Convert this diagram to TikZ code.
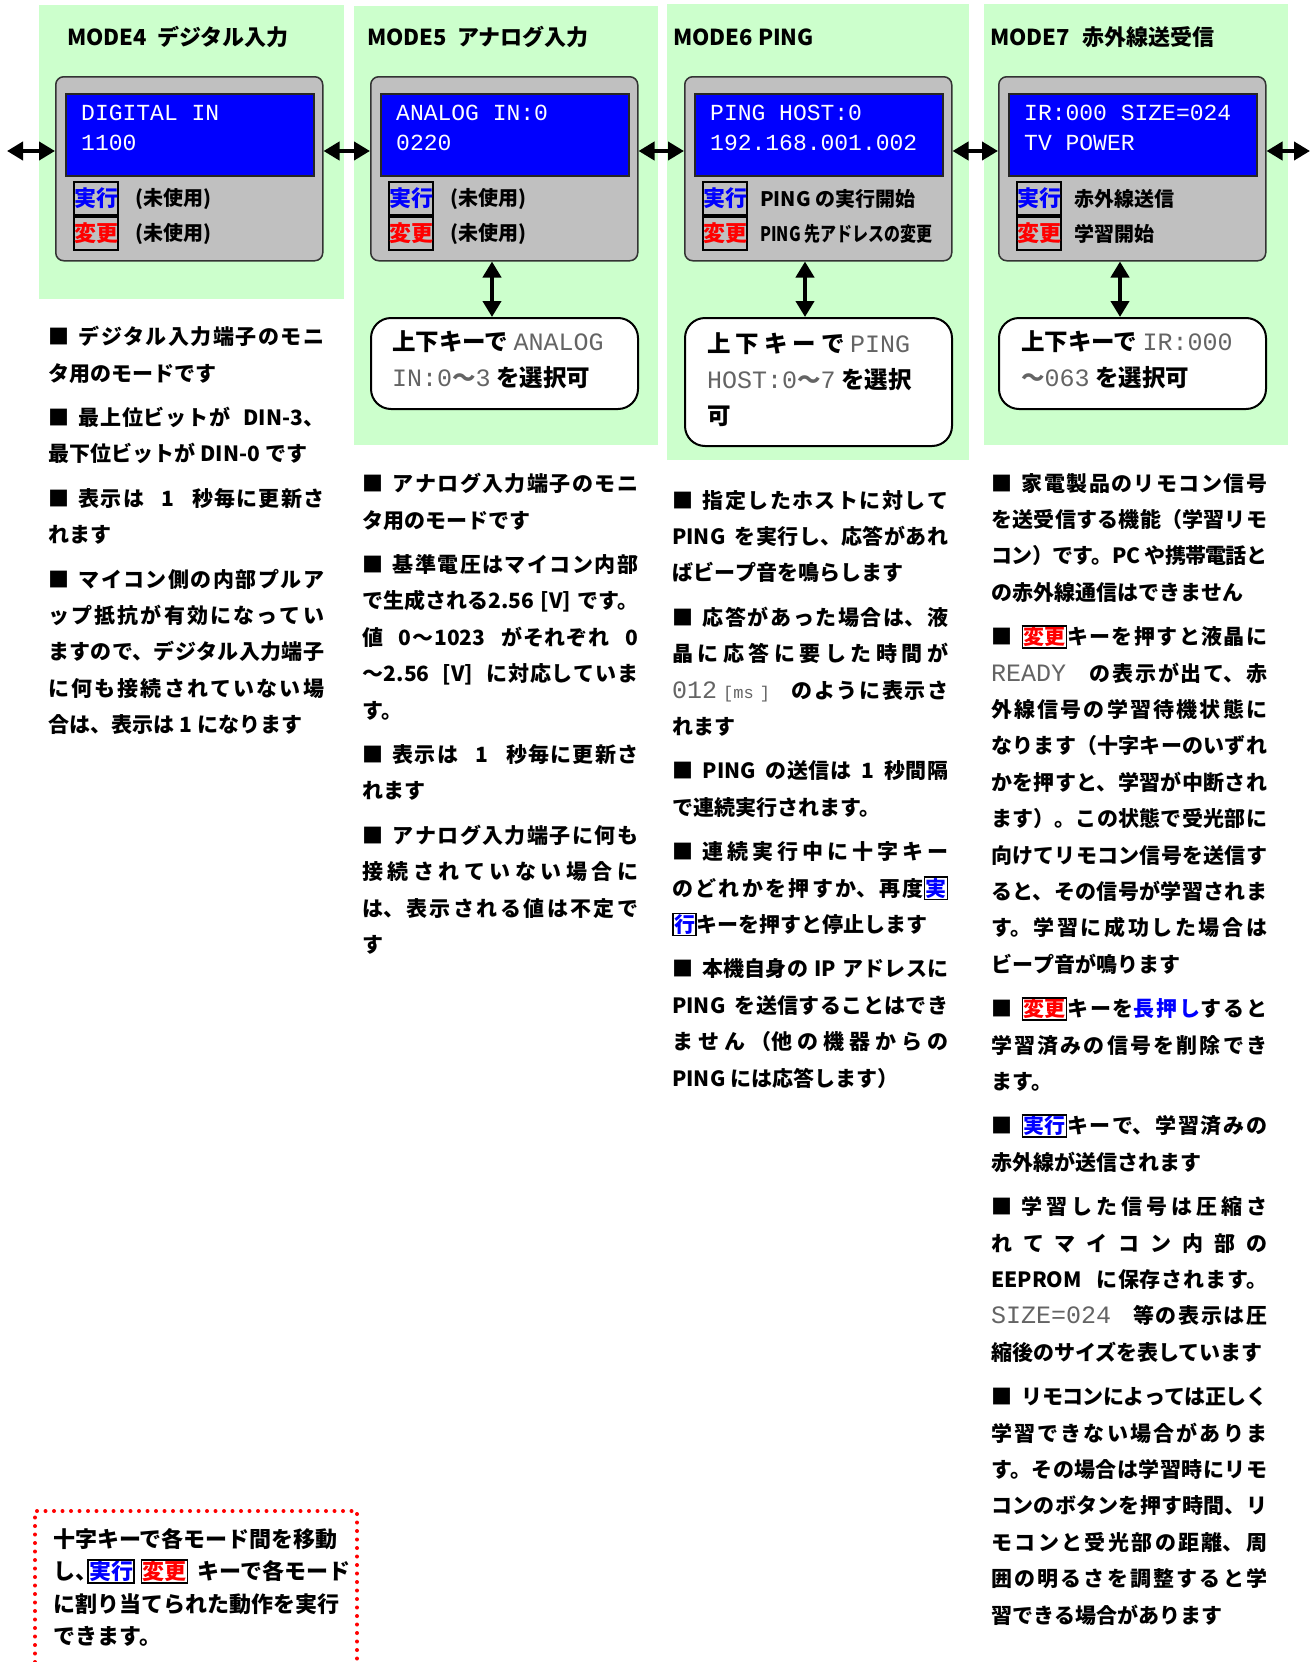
\documentclass[tikz,border=0pt]{standalone}
\usepackage{fontspec}
\usepackage{graphicx}
\setmainfont{Noto Sans CJK JP}
\newfontfamily\lcdfont{Liberation Mono}
\usetikzlibrary{arrows.meta,positioning}

% Japanese break points with a little stretch, so lines can be justified
\XeTeXlinebreaklocale "ja"
\XeTeXlinebreakskip=0pt plus 3pt minus 1pt
\tolerance=9999
\hbadness=10000
\hfuzz=20pt

\definecolor{panelgreen}{RGB}{204,255,204}
\definecolor{lcdgrey}{RGB}{192,192,192}
\definecolor{lcdblue}{RGB}{0,0,255}
\definecolor{keyblue}{RGB}{0,0,255}
\definecolor{keyred}{RGB}{255,0,0}
\definecolor{dotink}{RGB}{100,100,100}

\newcommand{\bsq}{■\hspace{0.45em}}
\newcommand{\pgap}{\par\vspace{8pt}}
\newcommand{\runkey}[1][実行]{{\setlength{\fboxsep}{0.3pt}\setlength{\fboxrule}{1.5pt}\fcolorbox{black}{white}{\textcolor{keyblue}{#1}}}}
\newcommand{\chgkey}{{\setlength{\fboxsep}{0.3pt}\setlength{\fboxrule}{1.5pt}\fcolorbox{black}{white}{\textcolor{keyred}{変更}}}}
\newcommand{\dotmono}[1]{{\lcdfont\mdseries\fontsize{25pt}{36pt}\selectfont\color{dotink}#1}}
\newcommand{\dotsmall}[1]{{\lcdfont\mdseries\fontsize{17pt}{36pt}\selectfont\color{dotink}#1}}
\newcommand{\dottilde}{{\color{dotink}～}}

\tikzset{
  panel/.style={fill=panelgreen},
  modetitle/.style={font={\fontsize{22pt}{22pt}\selectfont\bfseries}, anchor=west, inner sep=0pt},
  greybox/.style={draw=black!80, line width=1.5pt, fill=lcdgrey, rounded corners=8pt,
    minimum width=267pt, minimum height=184pt, anchor=north west, inner sep=0pt},
  lcd/.style={draw=black!85, line width=2pt, fill=lcdblue, minimum width=248pt,
    minimum height=82pt, anchor=north west, inner sep=0pt},
  lcdtext/.style={text=white, font={\lcdfont\fontsize{23pt}{28pt}\selectfont}, anchor=west,
    inner sep=0pt, text height=15pt, text depth=0pt},
  keybox/.style={draw=black, line width=2pt, fill=lcdgrey, minimum width=44pt, minimum height=33pt,
    inner sep=0pt, font={\fontsize{22pt}{22pt}\selectfont\bfseries}},
  act/.style={font={\fontsize{20pt}{20pt}\selectfont\bfseries}, inner sep=0pt, anchor=west},
  selbox/.style={draw=black, line width=2pt, fill=white, rounded corners=20pt,
    minimum width=267pt, anchor=north west, inner sep=0pt},
  seltext/.style={font={\fontsize{23.5pt}{36pt}\selectfont\bfseries}, align=left, anchor=north west, inner sep=0pt},
  body/.style={font={\fontsize{21pt}{36.4pt}\selectfont\bfseries\parindent=0pt\spaceskip=0.25em plus 1.5em minus 0.05em},
    text width=276pt, align=justify, anchor=north west, inner sep=0pt},
  notetext/.style={font={\fontsize{22pt}{32.5pt}\selectfont\bfseries}, align=left, anchor=north west, inner sep=0pt},
  dblarrow/.style={line width=4pt, {Triangle[length=16pt,width=18pt]}-{Triangle[length=16pt,width=18pt]}},
  notebox/.style={draw=keyred, line width=4pt, dash pattern=on 0pt off 8.5pt, line cap=round}
}

\begin{document}
\begin{tikzpicture}[x=1pt,y=-1pt]
\useasboundingbox (0,0) rectangle (1312,1662);
\fill[white] (0,0) rectangle (1312,1662);

% Green mode panels
\fill[panel] (39,5) rectangle (344,299);
\fill[panel] (354,6) rectangle (658,445);
\fill[panel] (667,4) rectangle (969,460);
\fill[panel] (984,4) rectangle (1288,445);

% MODE4 digital input
\node[modetitle] (ttl4) at (67,37) {MODE4\hspace{10pt}デジタル入力};
\node[greybox] (g4) at (55,76) {};
\node[lcd] (l4) at ([xshift=10pt,yshift=-17pt]g4.north west) {};
\node[lcdtext] (d4a) at ([xshift=16pt,yshift=-20pt]l4.north west) {DIGITAL IN};
\node[lcdtext] (d4b) at ([xshift=16pt,yshift=-50pt]l4.north west) {1100};
\node[keybox, anchor=north west] (k4a) at ([xshift=18pt,yshift=-105pt]g4.north west) {\textcolor{keyblue}{実行}};
\node[keybox, anchor=north] (k4b) at (k4a.south) {\textcolor{keyred}{変更}};
\node[act, right=16pt of k4a] (a4a) {(未使用)};
\node[act, right=16pt of k4b] (a4b) {(未使用)};

% MODE5 analog input
\node[modetitle] (ttl5) at (367,37) {MODE5\hspace{10pt}アナログ入力};
\node[greybox] (g5) at (370,76) {};
\node[lcd] (l5) at ([xshift=10pt,yshift=-17pt]g5.north west) {};
\node[lcdtext] (d5a) at ([xshift=16pt,yshift=-20pt]l5.north west) {ANALOG IN:0};
\node[lcdtext] (d5b) at ([xshift=16pt,yshift=-50pt]l5.north west) {0220};
\node[keybox, anchor=north west] (k5a) at ([xshift=18pt,yshift=-105pt]g5.north west) {\textcolor{keyblue}{実行}};
\node[keybox, anchor=north] (k5b) at (k5a.south) {\textcolor{keyred}{変更}};
\node[act, right=16pt of k5a] (a5a) {(未使用)};
\node[act, right=16pt of k5b] (a5b) {(未使用)};
\node[selbox, minimum height=91pt] (w5) at (370,317) {};
\node[seltext] (s5) at ([xshift=22pt,yshift=-13pt]w5.north west)
  {上下キーで \dotmono{ANALOG}\\\dotmono{IN:0}\dottilde\dotmono{3} を選択可};

% MODE6 ping
\node[modetitle] (ttl6) at (673,37) {MODE6 PING};
\node[greybox] (g6) at (684,76) {};
\node[lcd] (l6) at ([xshift=10pt,yshift=-17pt]g6.north west) {};
\node[lcdtext] (d6a) at ([xshift=16pt,yshift=-20pt]l6.north west) {PING HOST:0};
\node[lcdtext] (d6b) at ([xshift=16pt,yshift=-50pt]l6.north west) {192.168.001.002};
\node[keybox, anchor=north west] (k6a) at ([xshift=18pt,yshift=-105pt]g6.north west) {\textcolor{keyblue}{実行}};
\node[keybox, anchor=north] (k6b) at (k6a.south) {\textcolor{keyred}{変更}};
\node[act, right=12pt of k6a] (a6a) {PING の実行開始};
\node[act, right=12pt of k6b] (a6b) {\scalebox{0.8}[1]{PING 先アドレスの変更}};
\node[selbox, minimum height=128pt] (w6) at (684,317) {};
\node[seltext] (s6) at ([xshift=23pt,yshift=-15pt]w6.north west)
  {上\hspace{5pt}下\hspace{5pt}キ\hspace{5pt}ー\hspace{5pt}で \dotmono{PING}\\\dotmono{HOST:0}\dottilde\dotmono{7} を選択\\可};

% MODE7 infrared
\node[modetitle] (ttl7) at (990,37) {MODE7\hspace{12pt}赤外線送受信};
\node[greybox] (g7) at (998,76) {};
\node[lcd] (l7) at ([xshift=10pt,yshift=-17pt]g7.north west) {};
\node[lcdtext] (d7a) at ([xshift=16pt,yshift=-20pt]l7.north west) {IR:000 SIZE=024};
\node[lcdtext] (d7b) at ([xshift=16pt,yshift=-50pt]l7.north west) {TV POWER};
\node[keybox, anchor=north west] (k7a) at ([xshift=18pt,yshift=-105pt]g7.north west) {\textcolor{keyblue}{実行}};
\node[keybox, anchor=north] (k7b) at (k7a.south) {\textcolor{keyred}{変更}};
\node[act, right=12pt of k7a] (a7a) {赤外線送信};
\node[act, right=12pt of k7b] (a7b) {学習開始};
\node[selbox, minimum height=91pt] (w7) at (998,317) {};
\node[seltext] (s7) at ([xshift=23pt,yshift=-13pt]w7.north west)
  {上下キーで \dotmono{IR:000}\\\dottilde\dotmono{063} を選択可};

% Mode switching arrows
\coordinate (lv) at (0,151);
\coordinate (lend) at (7,151);
\coordinate (rend) at (1310,151);
\draw[dblarrow] (lend) -- (g4.west |- lv);
\draw[dblarrow] (g4.east |- lv) -- (g5.west |- lv);
\draw[dblarrow] (g5.east |- lv) -- (g6.west |- lv);
\draw[dblarrow] (g6.east |- lv) -- (g7.west |- lv);
\draw[dblarrow] (g7.east |- lv) -- (rend);

% Up/down key arrows
\draw[dblarrow] ([xshift=122pt]g5.south west) -- ([xshift=122pt]w5.north west);
\draw[dblarrow] ([xshift=121pt]g6.south west) -- ([xshift=121pt]w6.north west);
\draw[dblarrow] ([xshift=122pt]g7.south west) -- ([xshift=122pt]w7.north west);

% Descriptions
\node[body] (b4) at (48,326) {%
\bsq デジタル入力端子のモニ\linebreak
タ用のモードです\pgap
\bsq 最上位ビットが DIN-3、\linebreak
最下位ビットが DIN-0 です\pgap
\bsq 表示は 1 秒毎に更新さ\linebreak
れます\pgap
\bsq マイコン側の内部プルア\linebreak
ップ抵抗が有効になってい\linebreak
ますので、デジタル入力端子\linebreak
に何も接続されていない場\linebreak
合は、表示は 1 になります};

\node[body] (b5) at (362,473) {%
\bsq アナログ入力端子のモニ\linebreak
タ用のモードです\pgap
\bsq 基準電圧はマイコン内部\linebreak
で生成される2.56 [V] です。\linebreak
値 0～1023 がそれぞれ 0\linebreak
～2.56 [V] に対応していま\linebreak
す。\pgap
\bsq 表示は 1 秒毎に更新さ\linebreak
れます\pgap
\bsq アナログ入力端子に何も\linebreak
接続されていない場合に\linebreak
は、表示される値は不定で\linebreak
す};

\node[body] (b6) at (672,490) {%
\bsq 指定したホストに対して\linebreak
PING を実行し、応答があれ\linebreak
ばビープ音を鳴らします\pgap
\bsq 応答があった場合は、液\linebreak
晶に応答に要した時間が\linebreak
\dotmono{012}\kern6pt\dotsmall{[ms\kern6pt]} のように表示さ\linebreak
れます\pgap
\bsq PING の送信は 1 秒間隔\linebreak
で連続実行されます。\pgap
\bsq 連続実行中に十字キー\linebreak
のどれかを押すか、再度\runkey[実]\linebreak
\runkey[行]キーを押すと停止します\pgap
\bsq 本機自身の IP アドレスに\linebreak
PING を送信することはでき\linebreak
ません（他の機器からの\linebreak
PING には応答します）};

\node[body] (b7) at (991,473) {%
\bsq 家電製品のリモコン信号\linebreak
を送受信する機能（学習リモ\linebreak
コン）です。PC や携帯電話と\linebreak
の赤外線通信はできません\pgap
\bsq \chgkey キーを押すと液晶に\linebreak
\dotmono{READY} の表示が出て、赤\linebreak
外線信号の学習待機状態に\linebreak
なります（十字キーのいずれ\linebreak
かを押すと、学習が中断され\linebreak
ます）。この状態で受光部に\linebreak
向けてリモコン信号を送信す\linebreak
ると、その信号が学習されま\linebreak
す。学習に成功した場合は\linebreak
ビープ音が鳴ります\pgap
\bsq \chgkey キーを\textcolor{keyblue}{長押し}すると\linebreak
学習済みの信号を削除でき\linebreak
ます。\pgap
\bsq \runkey キーで、学習済みの\linebreak
赤外線が送信されます\pgap
\bsq 学習した信号は圧縮さ\linebreak
れてマイコン内部の\linebreak
EEPROM に保存されます。\linebreak
\dotmono{SIZE=024} 等の表示は圧\linebreak
\mbox{縮後のサイズを表しています}\pgap
\bsq リモコンによっては正しく\linebreak
学習できない場合がありま\linebreak
す。その場合は学習時にリモ\linebreak
コンのボタンを押す時間、リ\linebreak
モコンと受光部の距離、周\linebreak
囲の明るさを調整すると学\linebreak
習できる場合があります};

% Note on key usage
\draw[notebox] (35,1662) -- (35,1511) -- (357,1511) -- (357,1662);
\node[notetext] (note) at (53,1528) {%
十字キーで各モード間を移動\\
し、\kern-10pt\runkey\hspace{6pt}\chgkey\hspace{9pt}キーで各モード\\
に割り当てられた動作を実行\\
できます。};
\end{tikzpicture}
\end{document}
